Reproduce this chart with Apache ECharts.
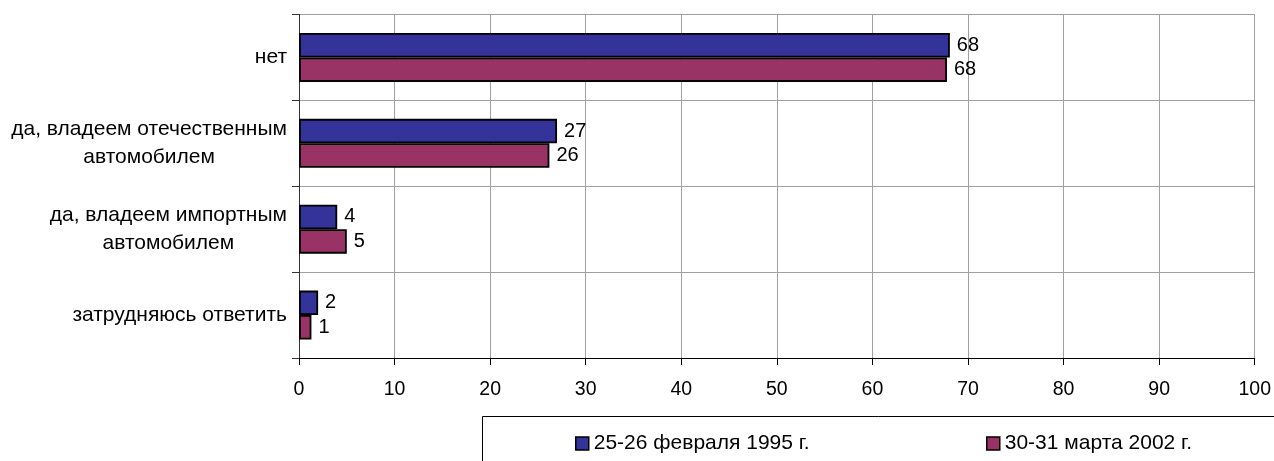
<!DOCTYPE html>
<html>
<head>
<meta charset="utf-8">
<script src="https://cdn.jsdelivr.net/npm/echarts@6/dist/echarts.min.js"></script>
<style>html,body{margin:0;padding:0;background:#fff;}#c{width:1274px;height:461px;}</style>
</head>
<body>
<div id="c"></div>
<script>
const categories = ['нет', 'да, владеем отечественным\nавтомобилем', 'да, владеем импортным\nавтомобилем', 'затрудняюсь ответить'];
const seriesNames = ['25-26 февраля 1995 г.', '30-31 марта 2002 г.'];
const values1995 = [68.1, 27.0, 4.0, 2.0];
const values2002 = [67.8, 26.2, 5.0, 1.3];
const xTicks = {min: 0, max: 100, interval: 10};

const FONT = '"Liberation Sans", Arial, sans-serif';
const chart = echarts.init(document.getElementById('c'), null, {renderer: 'canvas'});

function labelFmt(v) {
  return v.split('\n').map(s => '{c|' + s + '}').join('\n');
}

const barLabel = {
  show: true, position: 'right', distance: 7,
  color: '#000', fontSize: 20, fontFamily: FONT,
  formatter: p => Math.round(p.value)
};

const legendCommon = {
  top: 428, orient: 'horizontal',
  itemWidth: 13, itemHeight: 13, icon: 'rect',
  textStyle: {color: '#000', fontSize: 21, fontFamily: FONT},
  itemStyle: {borderColor: '#000', borderWidth: 1.5}
};

chart.setOption({
  animation: false,
  backgroundColor: '#fff',
  grid: {left: 299, right: 19, top: 14.5, bottom: 103, containLabel: false},
  xAxis: {
    type: 'value', min: xTicks.min, max: xTicks.max, interval: xTicks.interval,
    axisLine: {show: true, lineStyle: {color: '#000', width: 1}},
    axisTick: {show: true, length: 7, lineStyle: {color: '#000'}},
    axisLabel: {color: '#000', fontSize: 19.5, fontFamily: FONT, margin: 22},
    splitLine: {show: true, lineStyle: {color: '#a0a0a0', width: 1}}
  },
  yAxis: {
    type: 'category', data: categories, inverse: true,
    axisLine: {show: true, lineStyle: {color: '#333', width: 1}},
    axisTick: {show: true, length: 7, lineStyle: {color: '#333'}},
    axisLabel: {
      color: '#000', fontSize: 21, fontFamily: FONT, margin: 12,
      formatter: labelFmt,
      rich: {c: {align: 'center', fontSize: 21, fontFamily: FONT, lineHeight: 27.5, color: '#000'}}
    },
    splitLine: {show: true, lineStyle: {color: '#a0a0a0', width: 1}}
  },
  legend: [
    Object.assign({data: [seriesNames[0]], left: 570}, legendCommon),
    Object.assign({data: [seriesNames[1]], left: 981}, legendCommon)
  ],
  graphic: [{
    type: 'rect', left: 480, top: 414, silent: true, z: -1,
    shape: {x: 0, y: 0, width: 900, height: 100},
    style: {fill: 'none', stroke: '#000', lineWidth: 1}
  }],
  series: [
    {
      name: seriesNames[0], type: 'bar', data: values1995,
      barGap: '0%', barCategoryGap: '43%',
      itemStyle: {color: '#333399', borderColor: '#000', borderWidth: 1.8},
      label: barLabel
    },
    {
      name: seriesNames[1], type: 'bar', data: values2002,
      barGap: '0%', barCategoryGap: '43%',
      itemStyle: {color: '#993366', borderColor: '#000', borderWidth: 1.8},
      label: barLabel
    }
  ]
});
</script>
</body>
</html>
